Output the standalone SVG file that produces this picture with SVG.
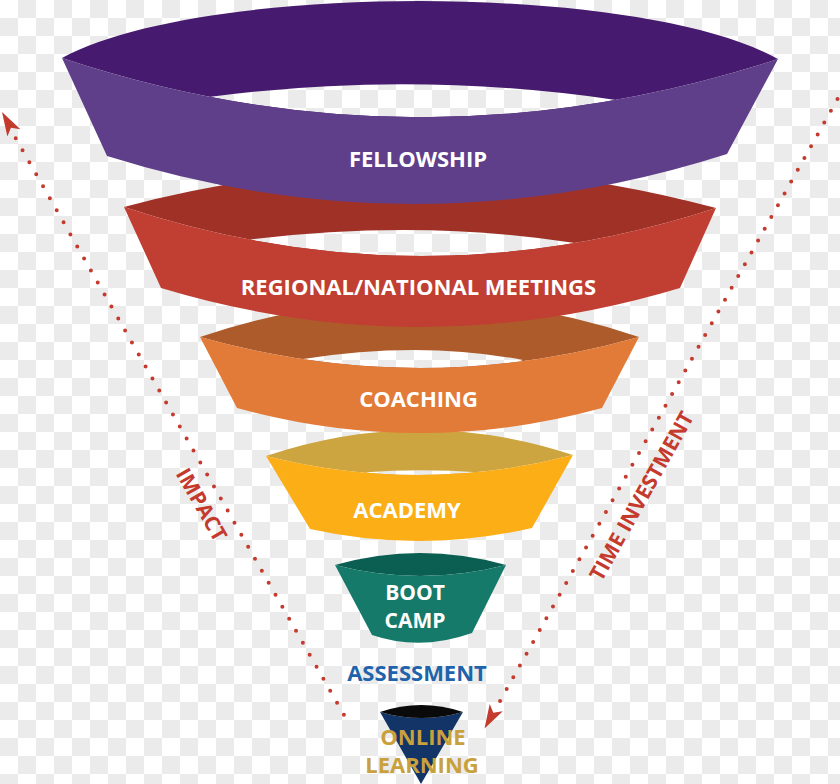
<svg xmlns="http://www.w3.org/2000/svg" width="840" height="784" viewBox="0 0 840 784">
<defs>
<pattern id="checker" width="36" height="36" patternUnits="userSpaceOnUse">
<rect width="36" height="36" fill="#ffffff"/>
<rect x="18" y="0" width="18" height="18" fill="#ebebeb"/>
<rect x="0" y="18" width="18" height="18" fill="#ebebeb"/>
</pattern>
<path id="head" d="M0,0 L-24,-7.5 L-18,0 L-24,7.5 Z"/>
</defs>
<style>
.lbl{font-family:"Open Sans","Liberation Sans",sans-serif;font-weight:bold;font-size:22px;text-anchor:middle}
.sm{font-size:21px}
.w{fill:#ffffff}
.dots{fill:none;stroke:#c43a2c;stroke-width:4;stroke-linecap:round}
.arr{fill:#c43a2c}
.alb{font-family:"Open Sans","Liberation Sans",sans-serif;font-weight:bold;font-size:21px;text-anchor:middle;fill:#c43a2c}
</style>
<rect width="840" height="784" fill="url(#checker)"/>

<g id="online-learning">
<path d="M380,712 Q421,724 463,712 L421,784 Z" fill="#123466"/>
<path d="M380,712 Q421,698 463,712 Q421,724 380,712 Z" fill="#0a0a0a"/>
<text class="lbl" x="423" y="745" fill="#c9a13c">ONLINE</text>
<text class="lbl" x="422" y="773" fill="#c9a13c">LEARNING</text>
</g>

<g id="assessment">
<text class="lbl" x="417" y="681" fill="#1f63ab">ASSESSMENT</text>
</g>

<g id="boot-camp">
<path d="M335,565 Q420,541 506,565 Q420,587 335,565 Z" fill="#0a5f52"/>
<path d="M335,565 Q420,587 506,565 L472,633 Q420,651.5 372,635 Z" fill="#167a6b"/>
<text class="lbl sm w" x="415" y="600">BOOT</text>
<text class="lbl sm w" x="415" y="627.5">CAMP</text>
</g>

<g id="academy">
<path fill-rule="evenodd" d="M266,456 Q420,404.5 573,455 Q420,494.5 266,456 Z M363,472.5 Q420,468 481,472.5 Q420,490 363,472.5 Z" fill="#cda540"/>
<path d="M266,456 Q420,494.5 573,455 L532,528 Q420,553.5 310,529 Z" fill="#fcae17"/>
<text class="lbl w" x="407" y="518">ACADEMY</text>
</g>

<g id="coaching">
<path fill-rule="evenodd" d="M200,337 Q420,263 639,337 Q420,399 200,337 Z M303,359 Q420,340.5 523,360 Q420,395 303,359 Z" fill="#ae5b2c"/>
<path d="M200,337 Q420,399 639,337 L602,408 Q420,458 237,408 Z" fill="#e27a38"/>
<text class="lbl w" x="418.5" y="407">COACHING</text>
</g>

<g id="regional-national-meetings">
<path fill-rule="evenodd" d="M124,207 Q420,128.5 716,208 Q420,304.5 124,207 Z M245,240 Q418,218.5 575,243 Q418,290 245,240 Z" fill="#a03127"/>
<path d="M124,207 Q420,304.5 716,208 L680,288 Q420,366 161,288 Z" fill="#c03e32"/>
<text class="lbl w" x="418.5" y="295">REGIONAL/NATIONAL MEETINGS</text>
</g>

<g id="fellowship">
<path fill-rule="evenodd" d="M62,58 C200,-18 640,-18 778,59 Q418,176 62,58 Z M209,97 Q412,70 616,100 Q412,150 209,97 Z" fill="#461a6e"/>
<path d="M62,58 Q418,176 778,59 L727,154 Q417,253 107,156 Z" fill="#5f3f8a"/>
<text class="lbl w" x="418" y="167">FELLOWSHIP</text>
</g>

<g id="connectors">
<path class="dots" d="M15.7,138.3 L344,715" stroke-dasharray="0 13.82"/>
<use href="#head" class="arr" transform="translate(2,112) rotate(-119.7)"/>
<text class="alb" transform="translate(201.7,504.5) rotate(60.3)" y="7.5">IMPACT</text>
<path class="dots" d="M837.5,99 L500,701" stroke-dasharray="0 13.53"/>
<use href="#head" class="arr" transform="translate(484.5,728.5) rotate(119.3)"/>
<text class="alb" transform="translate(641.5,496) rotate(-60.7)" y="7.5">TIME INVESTMENT</text>
</g>
</svg>
